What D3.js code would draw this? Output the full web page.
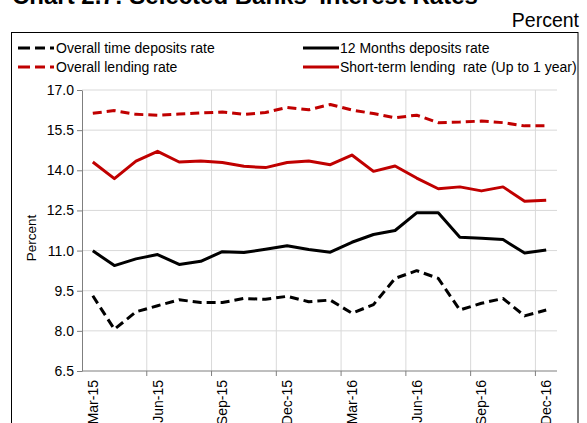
<!DOCTYPE html>
<html lang="en">
<head>
<meta charset="UTF-8">
<title>Selected Banks' Interest Rates</title>
<style>
html, body { margin: 0; padding: 0; background: #fff; }
svg { display: block; font-family: "Liberation Sans", Arial, sans-serif; }
.grid line { stroke: #d9d9d9; stroke-width: 1; }
.axis path, .axis line { stroke: #7f7f7f; }
.axis text { fill: #000; font-size: 14px; }
.legend text { white-space: pre; }
</style>
</head>
<body>
<div id="chart"></div>
<script src="https://d3js.org/d3.v7.min.js"></script>
<script>

const months = ["Mar-15","Apr-15","May-15","Jun-15","Jul-15","Aug-15","Sep-15","Oct-15","Nov-15","Dec-15",
                "Jan-16","Feb-16","Mar-16","Apr-16","May-16","Jun-16","Jul-16","Aug-16","Sep-16","Oct-16","Nov-16","Dec-16"];
const yTicks = [6.5, 8.0, 9.5, 11.0, 12.5, 14.0, 15.5, 17.0];

const overallTimeDeposits = [9.31, 8.06, 8.71, 8.94, 9.16, 9.06, 9.06, 9.21, 9.18, 9.29,
                             9.09, 9.15, 8.66, 8.98, 9.96, 10.25, 9.96, 8.78, 9.03, 9.21, 8.56, 8.78];
const twelveMonthDeposits = [10.99, 10.44, 10.69, 10.85, 10.48, 10.6, 10.96, 10.93, 11.05, 11.18,
                             11.04, 10.94, 11.31, 11.6, 11.75, 12.41, 12.41, 11.5, 11.46, 11.41, 10.91, 11.02];
const overallLending = [16.13, 16.23, 16.09, 16.06, 16.1, 16.14, 16.18, 16.09, 16.16, 16.35,
                        16.26, 16.46, 16.25, 16.12, 15.96, 16.06, 15.78, 15.8, 15.84, 15.78, 15.66, 15.66];
const shortTermLending = [14.31, 13.69, 14.34, 14.71, 14.31, 14.35, 14.29, 14.15, 14.1, 14.29,
                          14.35, 14.21, 14.57, 13.96, 14.16, 13.71, 13.31, 13.38, 13.23, 13.38, 12.84, 12.88];

const series = [
    { name: "Overall time deposits rate", values: overallTimeDeposits, color: "#000000", dash: "9,5" },
    { name: "12 Months deposits rate", values: twelveMonthDeposits, color: "#000000", dash: null },
    { name: "Overall lending rate", values: overallLending, color: "#c00000", dash: "9,5" },
    { name: "Short-term lending  rate (Up to 1 year)", values: shortTermLending, color: "#c00000", dash: null }
];

const width = 587, height = 423;
const margin = { top: 90, left: 82, right: 30, bottom: 52 };
const chartWidth = width - margin.left - margin.right;
const chartHeight = height - margin.top - margin.bottom;

const svg = d3.select("#chart").append("svg")
    .attr("width", width)
    .attr("height", height);

// title (cut off at the top in the original)
svg.append("text")
    .attr("x", 12).attr("y", 4)
    .attr("font-size", 24).attr("font-weight", "bold")
    .text("Chart 2.7: Selected Banks' Interest Rates");

svg.append("text")
    .attr("x", 579).attr("y", 27)
    .attr("text-anchor", "end")
    .attr("font-size", 19.5)
    .text("Percent");

// outer frame
svg.append("rect")
    .attr("x", 11.5).attr("y", 32.5)
    .attr("width", 566.5).attr("height", 420)
    .attr("fill", "none")
    .attr("stroke", "#000")
    .attr("stroke-width", 1);

const xScale = d3.scaleBand().domain(months).range([0, chartWidth]).padding(0);
const yScale = d3.scaleLinear().domain([6.5, 17]).range([chartHeight, 0]);
const cx = (d) => xScale(d) + xScale.bandwidth() / 2;

const chartLayer = svg.append("g")
    .attr("transform", `translate(${margin.left}, ${margin.top})`);

// grid
const grid = chartLayer.append("g").attr("class", "grid");
grid.selectAll(".hgrid").data(yTicks.slice(1)).enter().append("line")
    .attr("x1", 0).attr("x2", chartWidth)
    .attr("y1", (d) => yScale(d)).attr("y2", (d) => yScale(d));

const vTickMonths = months.filter((d, i) => i > 0 && i % 3 === 0);
grid.selectAll(".vgrid").data(vTickMonths).enter().append("line")
    .attr("x1", (d) => xScale(d)).attr("x2", (d) => xScale(d))
    .attr("y1", 0).attr("y2", chartHeight);

// y axis
const yAxis = d3.axisLeft(yScale)
    .tickValues(yTicks)
    .tickFormat(d3.format(".1f"))
    .tickSize(5)
    .tickSizeOuter(0)
    .tickPadding(3);
chartLayer.append("g").attr("class", "axis y").call(yAxis);

// x axis: tick marks on category boundaries, labels at centers
const xAxisG = chartLayer.append("g")
    .attr("class", "axis x")
    .attr("transform", `translate(0, ${chartHeight})`);
xAxisG.append("line")
    .attr("x1", 0).attr("x2", chartWidth)
    .attr("stroke", "#7f7f7f");
xAxisG.selectAll(".tickmark").data(vTickMonths).enter().append("line")
    .attr("x1", (d) => xScale(d)).attr("x2", (d) => xScale(d))
    .attr("y1", 0).attr("y2", 5)
    .attr("stroke", "#7f7f7f");
const labelMonths = months.filter((d, i) => i % 3 === 0);
xAxisG.selectAll(".lbl").data(labelMonths).enter().append("text")
    .attr("transform", (d) => `translate(${cx(d) + 5}, 9) rotate(-90)`)
    .attr("text-anchor", "end")
    .text((d) => d);

// y axis title
svg.append("text")
    .attr("transform", "translate(36, 238) rotate(-90)")
    .attr("text-anchor", "middle")
    .attr("font-size", 13.5)
    .text("Percent");

// lines
const lineGen = (vals) => d3.line()
    .x((d, i) => cx(months[i]))
    .y((d) => yScale(d))(vals);

chartLayer.selectAll(".valueLine").data(series).enter().append("path")
    .attr("class", "valueLine")
    .attr("d", (s) => lineGen(s.values))
    .attr("fill", "none")
    .attr("stroke", (s) => s.color)
    .attr("stroke-width", 3)
    .attr("stroke-linejoin", "round")
    .attr("stroke-dasharray", (s) => s.dash);

// legend
const legendPos = [
    { x: 18, y: 48 }, { x: 303, y: 48 },
    { x: 18, y: 67 }, { x: 303, y: 67 }
];
const legend = svg.selectAll(".legend").data(series).enter().append("g")
    .attr("class", "legend")
    .attr("transform", (s, i) => `translate(${legendPos[i].x}, ${legendPos[i].y})`);
legend.append("line")
    .attr("x1", 0).attr("x2", (s) => s.dash ? 37 : 36)
    .attr("stroke", (s) => s.color)
    .attr("stroke-width", 3)
    .attr("stroke-dasharray", (s) => s.dash ? "12,5,10,5,4,10" : null);
legend.append("text")
    .attr("x", (s) => s.dash ? 38 : 37).attr("y", 5)
    .attr("font-size", 14)
    .text((s) => s.name);

</script>
</body>
</html>
